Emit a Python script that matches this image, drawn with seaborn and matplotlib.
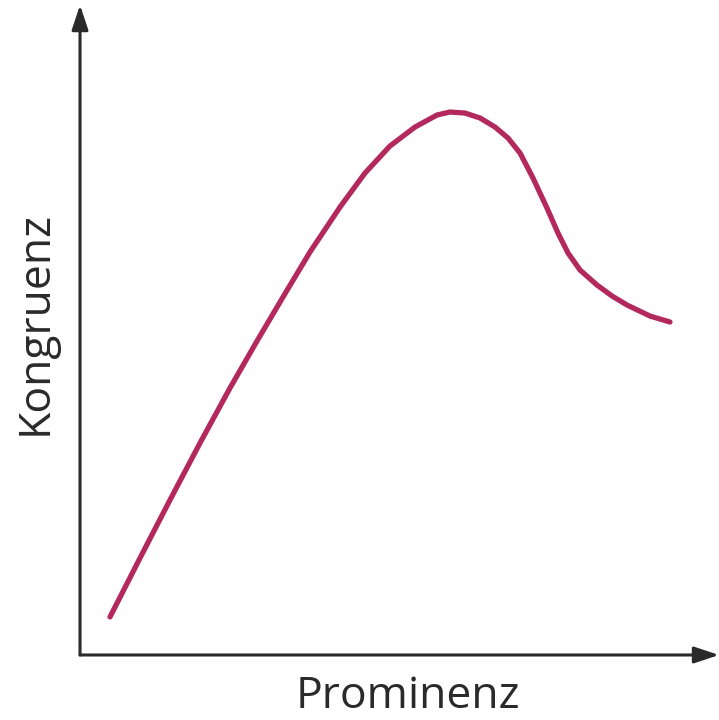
import matplotlib
matplotlib.use("Agg")
import matplotlib.pyplot as plt
import seaborn as sns
import pandas as pd

# Werte (beide Achsen 0-100, ohne Einheiten)
prominenz = [4.69, 9.39, 14.08, 18.78, 23.47, 27.70, 31.77, 35.99, 40.69,
             44.60, 48.51, 52.43, 55.87, 57.90, 60.25, 62.60, 64.95, 66.98,
             68.86, 70.89, 73.08, 74.80, 76.37, 78.25, 80.91, 83.26, 85.60,
             89.20, 92.33]
kongruenz = [5.85, 14.92, 23.85, 32.62, 41.08, 48.31, 55.08, 62.00, 68.92,
             74.15, 78.31, 81.23, 83.08, 83.54, 83.38, 82.62, 81.23, 79.54,
             77.23, 73.38, 68.77, 64.92, 61.85, 59.23, 56.92, 55.23, 53.85,
             52.15, 51.23]

df = pd.DataFrame({"Prominenz": prominenz, "Kongruenz": kongruenz})

sns.set_style("white")
plt.rcParams['font.family'] = ['Open Sans', 'DejaVu Sans']

fig = plt.figure(figsize=(7.19, 7.2), dpi=100)
ax = fig.add_axes([0.1113, 0.0903, 0.8887, 0.9027])

sns.lineplot(data=df, x="Prominenz", y="Kongruenz", sort=False, ax=ax,
             color="#b3295d", linewidth=3.8, solid_capstyle="round",
             solid_joinstyle="round")

ax.set_xlim(0, 100)
ax.set_ylim(0, 100)
ax.set_xticks([])
ax.set_yticks([])
ax.set_xlabel("")
ax.set_ylabel("")
for s in ax.spines.values():
    s.set_visible(False)

# Achsen mit Pfeilen
arrow = dict(arrowstyle="-|>,head_length=1.5,head_width=0.5", color="#2a2a2a",
             lw=2.2, shrinkA=0, shrinkB=0)
ax.annotate("", xy=(1.0, 0), xytext=(0, 0), xycoords="axes fraction",
            arrowprops=arrow, annotation_clip=False)
ax.annotate("", xy=(0, 1.0), xytext=(0, 0), xycoords="axes fraction",
            arrowprops=arrow, annotation_clip=False)

fig.text(408 / 719, 1 - 697 / 720, "Prominenz", ha="center", va="center",
         fontsize=32, color="#2a2a2a")
fig.text(35 / 719, 1 - 323 / 720, "Kongruenz", ha="center", va="center",
         rotation=90, fontsize=32, color="#2a2a2a")

fig.savefig("out.png", dpi=100)
